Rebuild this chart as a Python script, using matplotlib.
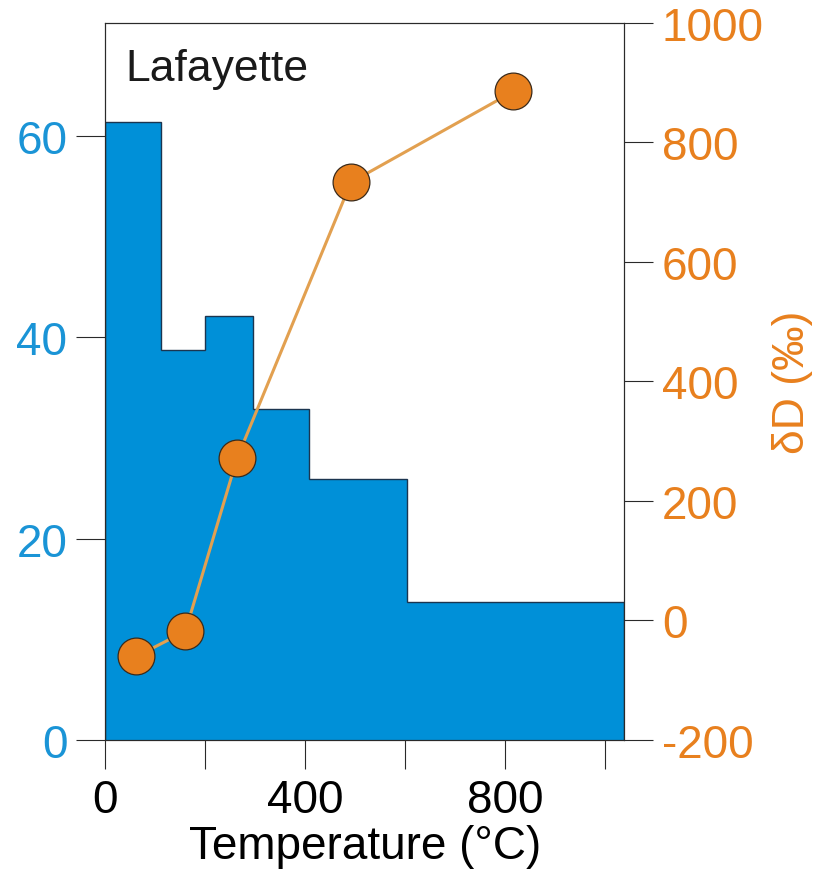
import numpy as np
import matplotlib
matplotlib.use("Agg")
import matplotlib.pyplot as plt

plt.rcParams['font.family'] = ['Liberation Sans', 'DejaVu Sans']
plt.rcParams['axes.unicode_minus'] = False

# step histogram (left axis)
temp_edges = [0, 113, 200, 297, 409, 604, 1039]
release = [61.3, 38.7, 42.1, 32.9, 25.9, 13.7]

# deltaD points (right axis)
temp_pts = [63, 161, 264, 492, 817]
delta_d = [-60, -18, 271, 733, 885]

blue = '#0090d8'
orange = '#e8801e'
line_orange = '#e2a050'
dark = '#2a2a2a'

fig = plt.figure(figsize=(8.22, 8.78), dpi=100)
ax = fig.add_axes([0.1277, 0.156, 0.632, 0.817])

ax.stairs(release, temp_edges, fill=True, facecolor=blue, edgecolor='#1b3550',
          linewidth=1.0, baseline=0)
ax.set_xlim(0, 1039)
ax.set_ylim(0, 71.2)
ax.set_xticks([0, 200, 400, 600, 800, 1000])
ax.set_xticklabels(['0', '', '400', '', '800', ''])
ax.set_yticks([0, 20, 40, 60])
ax.tick_params(axis='both', direction='out', length=21, width=0.8, color=dark,
               labelsize=33, pad=6)
ax.tick_params(axis='y', labelcolor='#1a94d6')
ax.set_xlabel('Temperature (°C)', fontsize=33, labelpad=2)
for s in ax.spines.values():
    s.set_linewidth(0.8)
    s.set_color(dark)

ax.text(0.04, 0.965, 'Lafayette', transform=ax.transAxes, fontsize=32,
        va='top', ha='left', color='#1a1a1a')

ax2 = ax.twinx()
ax2.plot(temp_pts, delta_d, color=line_orange, linewidth=2.2, zorder=2)
ax2.plot(temp_pts, delta_d, linestyle='none', marker='o', markersize=26.5,
         markerfacecolor=orange, markeredgecolor='#3a2a1a', markeredgewidth=0.9,
         zorder=3)
ax2.set_ylim(-200, 1000)
ax2.set_yticks([-200, 0, 200, 400, 600, 800, 1000])
ax2.tick_params(axis='y', direction='out', length=21, width=0.8, color=dark,
                labelsize=33, labelcolor=orange, pad=6)
ax2.set_ylabel('δD (‰)', fontsize=32, color=orange, labelpad=6)
for s in ax2.spines.values():
    s.set_linewidth(0.8)
    s.set_color(dark)

fig.savefig('out.png', dpi=100)
